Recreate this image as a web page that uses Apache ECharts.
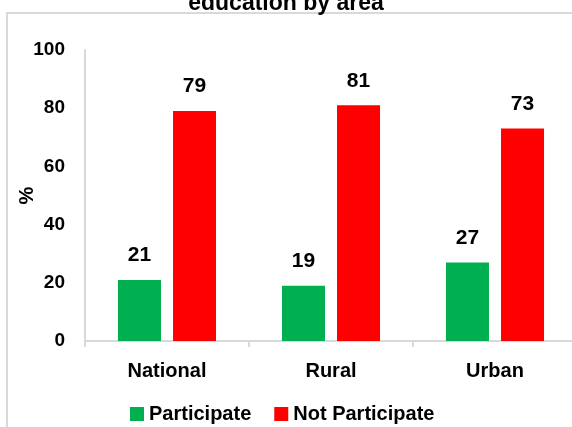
<!DOCTYPE html>
<html>
<head>
<meta charset="utf-8">
<script src="https://cdn.jsdelivr.net/npm/echarts@6/dist/echarts.min.js"></script>
<style>
  html, body { margin: 0; padding: 0; background: #fff; }
  #chart { width: 572px; height: 427px; }
</style>
</head>
<body>
<div id="chart"></div>
<script>
var areas = ['National', 'Rural', 'Urban'];
var participate = [21, 19, 27];
var notParticipate = [79, 81, 73];
var seriesNames = ['Participate', 'Not Participate'];

(function() {
  var font = 'Liberation Sans';
  var ink = '#000000';
  var rule = '#d9d9d9';

  var chart = echarts.init(document.getElementById('chart'), null, { renderer: 'canvas' });

  chart.setOption({
    animation: false,
    textStyle: { fontFamily: font },
    title: {
      text: 'education by area',
      left: 'center',
      top: -13,
      textStyle: { fontFamily: font, fontSize: 23, fontWeight: 'bold', color: ink }
    },
    // chart area border (top and left edges visible)
    graphic: [{
      type: 'rect',
      shape: { x: 7, y: 13, width: 700, height: 600 },
      style: { fill: 'none', stroke: rule, lineWidth: 2 },
      silent: true
    }],
    legend: {
      data: seriesNames,
      left: 125,
      top: 399,
      icon: 'rect',
      itemWidth: 14,
      itemHeight: 14,
      itemGap: 23,
      textStyle: { fontFamily: font, fontSize: 20, fontWeight: 'bold', color: ink }
    },
    grid: { left: 85, right: -5, top: 50, bottom: 86, outerBoundsMode: 'none' },
    xAxis: {
      type: 'category',
      data: areas,
      axisLine: { lineStyle: { color: rule, width: 2 } },
      axisTick: { show: true, length: 6, lineStyle: { color: rule, width: 2 } },
      axisLabel: { color: ink, fontSize: 20, fontWeight: 'bold', margin: 20 }
    },
    yAxis: {
      type: 'value',
      min: 0,
      max: 100,
      interval: 20,
      name: '%',
      nameLocation: 'middle',
      nameGap: 48,
      nameRotate: 90,
      nameMoveOverlap: false,
      nameTextStyle: { fontSize: 20, fontWeight: 'bold', color: ink },
      axisLine: { show: true, lineStyle: { color: rule, width: 2 } },
      axisTick: { show: false },
      splitLine: { show: false },
      axisLabel: { color: ink, fontSize: 19, fontWeight: 'bold', margin: 20 }
    },
    series: [
      {
        name: seriesNames[0],
        type: 'bar',
        data: participate,
        barWidth: 43,
        barGap: '28%',
        itemStyle: { color: '#00b050' },
        label: { show: true, position: 'top', distance: 14, color: ink, fontSize: 21, fontWeight: 'bold' }
      },
      {
        name: seriesNames[1],
        type: 'bar',
        data: notParticipate,
        barWidth: 43,
        barGap: '28%',
        itemStyle: { color: '#ff0000' },
        label: { show: true, position: 'top', distance: 14, color: ink, fontSize: 21, fontWeight: 'bold' }
      }
    ]
  });
})();
</script>
</body>
</html>
